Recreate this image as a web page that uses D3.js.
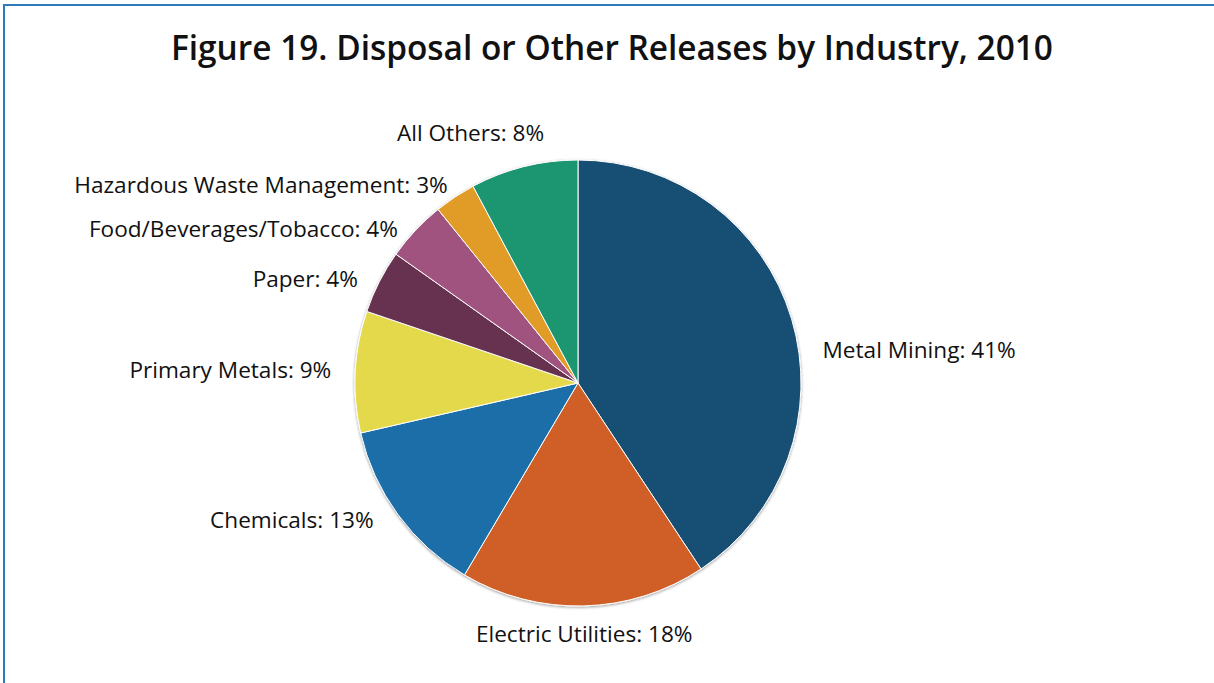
<!DOCTYPE html>
<html>
<head>
<meta charset="utf-8">
<script src="https://cdn.jsdelivr.net/npm/d3@7"></script>
<style>
  html, body { margin: 0; padding: 0; background: #fff; }
  svg { display: block; }
</style>
</head>
<body>
<svg id="chart" width="1214" height="683"></svg>
<script>
// ---- data ----
const categories = ["Metal Mining", "Electric Utilities", "Chemicals", "Primary Metals",
  "Paper", "Food/Beverages/Tobacco", "Hazardous Waste Management", "All Others"];
const values = [40.7, 17.8, 12.9, 8.8, 4.6, 4.4, 3.0, 7.8];
const labelPercents = ["41%", "18%", "13%", "9%", "4%", "4%", "3%", "8%"];
const colors = ["#164f73", "#cf5f26", "#1a6ea8", "#e4d94b", "#663350", "#a0537e", "#e09c28", "#1c9671"];
const titleText = "Figure 19. Disposal or Other Releases by Industry, 2010";

// ---- layout ----
const W = 1214, H = 683;
const cx = 578, cy = 383, R = 223;
const labelGap = 24;
// small manual nudges for crowded labels [dx, dy]
const labelNudge = [[8, 38], [0, 4], [-5, -9], [0, -1], [0, 8], [0, 15], [6, 8], [26, -10]];

const svg = d3.select("#chart");

// frame
svg.append("rect")
  .attr("x", 4).attr("y", 5)
  .attr("width", W + 10).attr("height", H + 10)
  .attr("fill", "none")
  .attr("stroke", "#2d7bbd")
  .attr("stroke-width", 2);

// title
svg.append("text")
  .attr("x", 612).attr("y", 60)
  .attr("text-anchor", "middle")
  .attr("font-family", "'Open Sans', sans-serif")
  .attr("font-weight", 600)
  .attr("font-size", 33.4)
  .attr("fill", "#111")
  .text(titleText);

const data = categories.map((c, i) => ({ name: c, value: values[i], pct: labelPercents[i], color: colors[i], i }));

const pie = d3.pie().sort(null).value(d => d.value);
const arcs = pie(data);
const arc = d3.arc().innerRadius(0).outerRadius(R);

const g = svg.append("g").attr("transform", `translate(${cx},${cy})`);

// soft outline/shadow
const defs = svg.append("defs");
const f = defs.append("filter").attr("id", "sh").attr("x", "-10%").attr("y", "-10%").attr("width", "120%").attr("height", "120%");
f.append("feGaussianBlur").attr("in", "SourceAlpha").attr("stdDeviation", 1.5);
f.append("feOffset").attr("dx", 0).attr("dy", 1).attr("result", "b");
f.append("feComponentTransfer").append("feFuncA").attr("type", "linear").attr("slope", 0.4);
const m = f.append("feMerge");
m.append("feMergeNode");
m.append("feMergeNode").attr("in", "SourceGraphic");

const slices = g.append("g").attr("filter", "url(#sh)");
slices.selectAll("path")
  .data(arcs)
  .join("path")
  .attr("d", arc)
  .attr("fill", d => d.data.color)
  .attr("stroke", "#fff")
  .attr("stroke-width", 1);

// labels
g.selectAll("text.lbl")
  .data(arcs)
  .join("text")
  .attr("class", "lbl")
  .each(function(d) {
    const a = (d.startAngle + d.endAngle) / 2;
    const rr = R + labelGap;
    let x = rr * Math.sin(a), y = -rr * Math.cos(a);
    const s = Math.sin(a);
    let anchor = Math.abs(s) < 0.15 && Math.cos(a) < 0 ? "middle" : (s >= 0 ? "start" : "end");
    const n = labelNudge[d.data.i];
    d3.select(this)
      .attr("x", x + n[0])
      .attr("y", y + n[1])
      .attr("dy", "0.35em")
      .attr("text-anchor", anchor);
  })
  .attr("font-family", "'Open Sans', sans-serif")
  .attr("font-size", 22.6)
  .attr("fill", "#111")
  .text(d => `${d.data.name}: ${d.data.pct}`);
</script>
</body>
</html>
